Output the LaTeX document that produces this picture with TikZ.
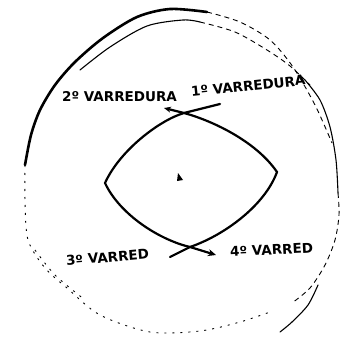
\documentclass[tikz,border=0pt]{standalone}
\usepackage{fontspec}
\setmainfont{DejaVu Sans}
\usetikzlibrary{arrows.meta}
\begin{document}
\begin{tikzpicture}[x=1pt,y=-1pt,
  lens/.style={line width=2.2pt,line cap=round},
  heavy/.style={line width=2.6pt,line cap=round},
  thinsolid/.style={line width=1.1pt,line cap=round},
  faint/.style={line width=0.9pt,dash pattern=on 5pt off 4pt},
  dotty/.style={line width=0.9pt,dash pattern=on 2pt off 6pt},
  lab/.style={font=\bfseries\fontsize{13.5}{13.5}\selectfont,inner sep=0pt}]
\useasboundingbox (0,0) rectangle (342,347);
% lens
\coordinate (L) at (105,183);
\coordinate (R) at (277,172);
\coordinate (T) at (184,113);
\coordinate (B) at (190,247);
\draw[lens,-{Stealth[length=8pt,width=7pt]}] (220,104) -- (T) .. controls (160,120) and (120,150) .. (L) .. controls (120,215) and (160,240) .. (B) -- (216,255);
\draw[lens,{Stealth[length=7pt,width=6pt]}-] (164,108) -- (T) .. controls (210,120) and (255,140) .. (R) .. controls (265,205) and (225,235) .. (B) -- (170,257);
\fill (178,173) -- (183,180) -- (177,181) -- cycle;
% outer arcs
\draw[heavy] plot[smooth] coordinates {(25,165) (31,135) (40,110) (55,85) (75,62) (103,38) (137,17) (170,9) (207,12)};
\draw[thinsolid] plot[smooth] coordinates {(80,70) (110,47) (147,26) (183,20) (200,22)};
\draw[faint] plot[smooth] coordinates {(207,12) (240,22) (270,40) (293,67) (315,105) (332,143)};
\draw[faint] plot[smooth] coordinates {(200,22) (235,32) (267,50) (290,66) (310,85)};
\draw[thinsolid] plot[smooth] coordinates {(305,80) (320,100) (330,127) (336,160) (338,193)};
\draw[faint] plot[smooth] coordinates {(338,193) (339,215) (335,240) (325,265) (310,288) (292,303)};
\draw[thinsolid] plot[smooth] coordinates {(318,285) (308,305) (292,322) (280,332)};
\draw[dotty] plot[smooth] coordinates {(25,165) (25,200) (28,240) (45,268) (67,288) (100,315) (150,332) (200,331) (240,322) (270,312)};
\draw[dotty] plot[smooth] coordinates {(35,250) (55,275) (85,300)};
% labels
\node[lab,anchor=west] (l2) at (62,97) {2º VARREDURA};
\node[lab,anchor=west,rotate=6] (l1) at (191,92) {1º VARREDURA};
\node[lab,anchor=west,rotate=5] (l3) at (66,261) {3º VARRED};
\node[lab,anchor=west,rotate=3] (l4) at (230,252) {4º VARRED};
\end{tikzpicture}
\end{document}
